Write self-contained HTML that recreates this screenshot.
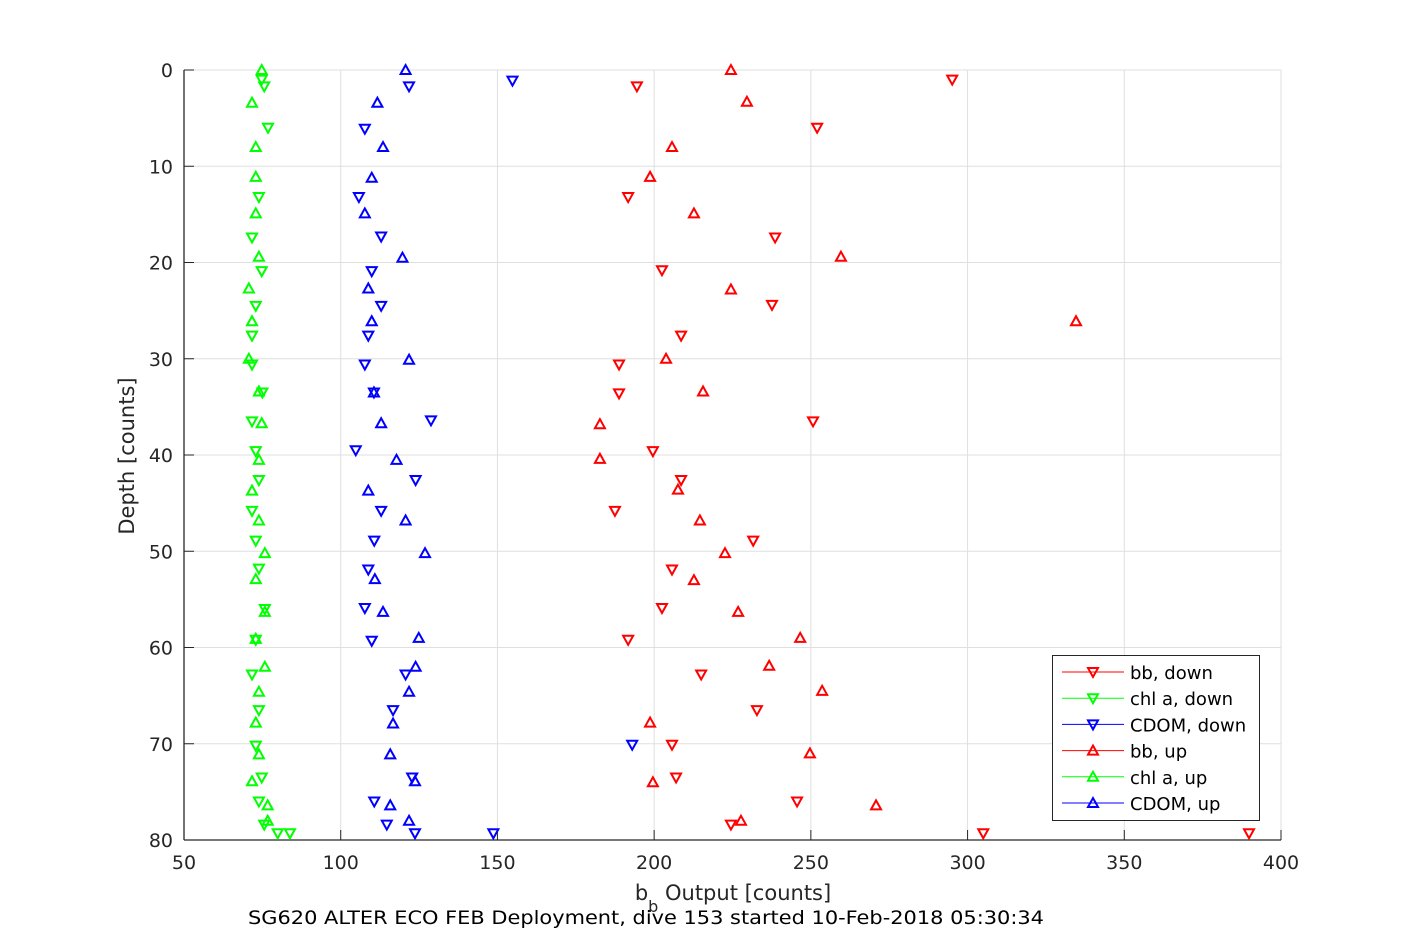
<!DOCTYPE html>
<html><head><meta charset="utf-8"><style>
body{margin:0;background:#fff;}
svg{display:block;font-family:"DejaVu Sans","Liberation Sans",sans-serif;}
</style></head><body>
<svg id="chart" width="1417" height="945" viewBox="0 0 1417 945" xmlns="http://www.w3.org/2000/svg">
<rect width="1417" height="945" fill="#fff"/>
<g id="grid"></g>
<g id="axes"></g>
<g id="marks"></g>
<text x="733" y="900" font-size="21" fill="#262626" text-anchor="middle">b<tspan font-size="16" dy="12">b</tspan><tspan dy="-12"> Output [counts]</tspan></text>
<text x="0" y="0" font-size="21" fill="#262626" text-anchor="middle" transform="translate(134,456) rotate(-90)">Depth [counts]</text>
<text x="248" y="924" font-size="19" fill="#000" textLength="796" lengthAdjust="spacingAndGlyphs">SG620 ALTER ECO FEB Deployment, dive 153 started 10-Feb-2018 05:30:34</text>
<g id="legend"></g>
</svg>
<script>
const xTicks=[50,100,150,200,250,300,350,400];
const yTicks=[0,10,20,30,40,50,60,70,80];
const bbDownDepth=[1.0,1.7,6.0,13.2,17.4,20.8,24.4,27.6,30.6,33.6,36.5,39.6,42.6,45.8,48.9,51.9,55.9,59.2,62.8,66.5,70.1,73.5,76.0,78.4,79.3,79.3];
const bbDownVal=[295.1,194.5,252,191.7,238.6,202.5,237.6,208.6,188.8,188.8,250.7,199.6,208.6,187.5,231.6,205.7,202.5,191.7,215,232.8,205.7,207,245.6,224.5,305,389.8];
const chlDownDepth=[1.0,1.7,6.0,13.2,17.4,20.9,24.5,27.6,30.6,33.5,36.5,39.6,42.6,45.8,48.9,51.8,56.0,59.2,62.8,66.5,70.2,73.5,76.0,78.4,79.3,79.3];
const chlDownVal=[74.8,75.6,76.8,73.9,71.7,74.8,72.9,71.7,71.7,75,71.7,72.9,73.9,71.7,72.9,73.9,75.8,72.9,71.7,73.9,72.9,74.8,73.9,75.6,79.9,83.8];
const cdomDownDepth=[1.1,1.7,6.1,13.2,17.3,20.9,24.5,27.6,30.6,33.5,36.4,39.5,42.6,45.8,48.9,51.9,55.9,59.3,62.8,66.5,70.1,73.5,76.0,78.4,79.3,79.3];
const cdomDownVal=[154.8,121.8,107.7,105.8,112.9,109.9,112.9,108.8,107.7,110.6,128.8,104.8,123.9,112.9,110.7,108.8,107.7,109.9,120.7,116.7,193,122.8,110.7,114.7,123.7,148.7];
const bbUpDepth=[0,3.3,8,11.1,14.9,19.4,22.8,26.1,30,33.4,36.8,40.4,43.6,46.8,50.2,53,56.3,59,61.9,64.5,67.8,71,74,76.4,78];
const bbUpVal=[224.5,229.6,205.7,198.7,212.7,259.6,224.5,334.6,203.8,215.6,182.7,182.7,207.6,214.6,222.6,212.7,226.8,246.6,236.7,253.6,198.7,249.7,199.6,270.8,227.7];
const chlUpDepth=[0,3.4,8,11.1,14.9,19.4,22.7,26.1,30,33.4,36.7,40.5,43.7,46.8,50.2,52.9,56.3,59.1,62,64.6,67.8,71.1,73.9,76.4,78];
const chlUpVal=[74.8,71.7,72.9,72.9,72.9,73.9,70.7,71.7,70.7,73.9,74.8,73.9,71.7,73.9,75.8,72.9,75.8,72.9,75.8,73.9,72.9,73.9,71.7,76.7,76.7];
const cdomUpDepth=[0,3.4,8,11.2,14.9,19.5,22.7,26.1,30.1,33.5,36.7,40.5,43.7,46.8,50.2,52.9,56.3,59,62,64.6,67.9,71.1,73.9,76.4,78];
const cdomUpVal=[120.7,111.7,113.5,109.9,107.7,119.7,108.8,109.9,121.8,110.6,112.9,117.8,108.8,120.7,126.9,110.9,113.5,124.9,123.9,121.8,116.7,115.8,123.7,115.8,121.8];

const L=184,R=1281,T=70,B=840;
const xs=v=>L+(v-50)/350*(R-L);
const ys=d=>T+d/80*(B-T);
const NS='http://www.w3.org/2000/svg';
function mk(tag,attrs,parent){const e=document.createElementNS(NS,tag);for(const k in attrs)e.setAttribute(k,attrs[k]);parent.appendChild(e);return e;}
const grid=document.getElementById('grid'),axes=document.getElementById('axes'),marks=document.getElementById('marks'),legend=document.getElementById('legend');

xTicks.forEach(t=>{
  const g=mk('line',{x1:xs(t),x2:xs(t),y1:T,y2:B,stroke:'#dfdfdf','stroke-width':1},grid);
  
  
  const tk=mk('line',{x1:xs(t),x2:xs(t),y1:B,y2:B-10,stroke:'#262626','stroke-width':1},axes);
  
  
  const lb=mk('text',{x:xs(t),y:B+29,'font-size':19,fill:'#262626','text-anchor':'middle'},axes);
  lb.textContent=t;
  
  
});
yTicks.forEach(t=>{
  const g=mk('line',{x1:L,x2:R,y1:ys(t),y2:ys(t),stroke:'#dfdfdf','stroke-width':1},grid);
  
  
  const tk=mk('line',{x1:L,x2:L+10,y1:ys(t),y2:ys(t),stroke:'#262626','stroke-width':1},axes);
  
  
  const lb=mk('text',{x:L-11,y:ys(t)+7,'font-size':19,fill:'#262626','text-anchor':'end'},axes);
  lb.textContent=t;
  
  
});
const ax1=mk('line',{x1:L,x2:R,y1:B,y2:B,stroke:'#262626','stroke-width':1.3},axes);


const ax2=mk('line',{x1:L,x2:L,y1:T,y2:B,stroke:'#262626','stroke-width':1.3},axes);



function tri(x,y,up){return up?`${x-5},${y+4} ${x+5},${y+4} ${x},${y-5}`:`${x-5},${y-4} ${x+5},${y-4} ${x},${y+5}`;}
function series(depths,vals,color,up,name){
  depths.forEach((d,i)=>{
    const p=mk('polygon',{points:tri(xs(vals[i]),ys(d),up),fill:'none',stroke:color,'stroke-width':2},marks);
    
    
  });
}
series(bbDownDepth,bbDownVal,'#ff0000',false,'bb-down');
series(chlDownDepth,chlDownVal,'#00ff00',false,'chl-down');
series(cdomDownDepth,cdomDownVal,'#0000ff',false,'cdom-down');
series(bbUpDepth,bbUpVal,'#ff0000',true,'bb-up');
series(chlUpDepth,chlUpVal,'#00ff00',true,'chl-up');
series(cdomUpDepth,cdomUpVal,'#0000ff',true,'cdom-up');

const box=mk('rect',{x:1052.5,y:655.5,width:207,height:165,fill:'#fff',stroke:'#262626','stroke-width':1},legend);


const legLabels=['bb, down','chl a, down','CDOM, down','bb, up','chl a, up','CDOM, up'];
const legColors=['#ff0000','#00ff00','#0000ff','#ff0000','#00ff00','#0000ff'];
legLabels.forEach((lab,i)=>{
  const y=672+i*26.2, up=i>=3;
  const ln=mk('line',{x1:1062,x2:1124,y1:y,y2:y,stroke:legColors[i],'stroke-width':1},legend);
  
  
  const m=mk('polygon',{points:tri(1093,y,up),fill:'none',stroke:legColors[i],'stroke-width':2},legend);
  
  
  const t=mk('text',{x:1130,y:y+7,'font-size':18,fill:'#000'},legend);
  t.textContent=lab;
  
  
});
</script>
</body></html>
